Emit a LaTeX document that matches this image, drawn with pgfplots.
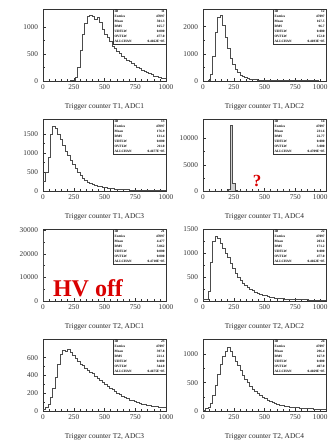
\documentclass[border=0pt]{standalone}
\usepackage{fontspec}
\setmainfont{Liberation Serif}
\usepackage{pgfplots}
\pgfplotsset{compat=1.18}
\newcommand\srow[2]{\makebox[50pt]{#1\hfill #2}}
\newcommand\statbox[7]{%
  \node[draw=black!80, line width=0.4pt, anchor=north east, inner sep=1.2pt, fill=white,
        align=left, font=\fontsize{3.4}{5}\selectfont\bfseries] at (rel axis cs:1,1)
  {\srow{ID}{#1}\\ \srow{Entries}{#2}\\ \srow{Mean}{#3}\\ \srow{RMS}{#4}\\ \srow{UDFLW}{#5}\\ \srow{OVFLW}{#6}\\ \srow{ALLCHAN}{#7}};}
\pgfplotsset{
 hist/.style={
  scale only axis, width=123pt, height=72pt, anchor=south west,
  xmin=0, xmax=1000, ymin=0,
  xtick={0,250,500,750,1000}, minor x tick num=4, minor y tick num=1,
  tick align=inside, tick pos=left,
  major tick length=3pt, minor tick length=1.6pt,
  scaled ticks=false,
  /pgf/number format/1000 sep={},
  /pgf/number format/assume math mode=true,
  ticklabel style={font=\fontsize{7.3}{8}\selectfont, text=black!80},
  yticklabel style={xshift=-1.5pt},
  xlabel style={font=\fontsize{7.4}{8}\selectfont, text=black!85, at={(axis description cs:0.5,0)}, anchor=center, yshift=-26pt},
  axis line style={line width=0.5pt, black!80},
  every tick/.style={black!80, line width=0.4pt},
 },
 right/.style={xticklabels={0,250,500,750,\makebox[3pt][r]{1000}}},
 h/.style={const plot mark left, black!70, line width=0.7pt, mark=none},
}
\begin{document}
\begin{tikzpicture}
\path[use as bounding box] (0pt,0pt) rectangle (329pt,442pt);
% Row 1 left: T1 ADC1
\begin{axis}[hist, at={(43pt,361pt)}, ymax=1333, ytick={0,500,1000}, xlabel={Trigger counter T1, ADC1}]
\addplot[h] coordinates {(0,0)(20,0)(40,0)(60,0)(80,0)(100,0)(120,0)(140,0)(160,0)(180,0)(200,0)(220,5)(240,15)(260,60)(280,260)(300,560)(320,860)(340,1060)(360,1200)(380,1210)(400,1190)(420,1150)(440,1170)(460,1080)(480,960)(500,870)(520,800)(540,740)(560,650)(580,600)(600,550)(620,505)(640,465)(660,425)(680,390)(700,355)(720,320)(740,290)(760,260)(780,230)(800,205)(820,180)(840,155)(860,135)(880,115)(900,95)(920,80)(940,68)(960,57)(980,48)(1000,48)};
\statbox{11}{47097}{501.3}{165.7}{0.000}{477.0}{0.4662E+05}
\end{axis}
% Row 1 right: T1 ADC2
\begin{axis}[hist, right, at={(203pt,361pt)}, ymax=2650, ytick={0,1000,2000}, xlabel={Trigger counter T1, ADC2}]
\addplot[h] coordinates {(0,0)(20,0)(40,20)(60,250)(80,900)(100,1800)(120,2350)(140,2400)(160,2050)(180,1600)(200,1200)(220,850)(240,600)(260,420)(280,300)(300,220)(320,165)(340,125)(360,95)(380,75)(400,60)(420,50)(440,42)(460,36)(480,32)(500,28)(520,25)(540,22)(560,20)(580,18)(600,16)(620,15)(640,14)(660,13)(680,12)(700,11)(720,10)(740,10)(760,9)(780,9)(800,8)(820,8)(840,7)(860,7)(880,6)(900,6)(920,6)(940,5)(960,5)(980,5)(1000,5)};
\statbox{12}{47097}{167.5}{96.7}{0.000}{152.0}{0.4693E+05}
\end{axis}
% Row 2 left: T1 ADC3
\begin{axis}[hist, at={(43pt,251pt)}, ymax=1900, ytick={0,500,1000,1500}, xlabel={Trigger counter T1, ADC3}]
\addplot[h] coordinates {(0,250)(20,500)(40,900)(60,1500)(80,1700)(100,1650)(120,1500)(140,1350)(160,1200)(180,1050)(200,930)(220,820)(240,700)(260,590)(280,490)(300,410)(320,340)(340,285)(360,240)(380,200)(400,170)(420,145)(440,125)(460,110)(480,95)(500,85)(520,75)(540,68)(560,60)(580,55)(600,50)(620,45)(640,40)(660,37)(680,33)(700,30)(720,28)(740,26)(760,24)(780,22)(800,20)(820,19)(840,18)(860,17)(880,16)(900,15)(920,14)(940,13)(960,12)(980,12)(1000,12)};
\statbox{13}{47097}{176.9}{131.4}{0.000}{211.0}{0.4677E+05}
\end{axis}
% Row 2 right: T1 ADC4
\begin{axis}[hist, right, at={(203pt,251pt)}, ymax=13700, ytick={0,5000,10000}, xlabel={Trigger counter T1, ADC4}]
\addplot[const plot mark left, fill=gray!35, draw=black!70, line width=0.7pt] coordinates {(0,0)(200,0)(205,300)(220,12500)(240,1500)(260,200)(280,0)(1000,0)} \closedcycle;
\statbox{14}{47097}{231.6}{22.77}{0.000}{3.000}{0.4709E+05}
\end{axis}
% Row 3 left: T2 ADC1
\begin{axis}[hist, at={(43pt,141pt)}, ymax=30500, ytick={0,10000,20000,30000}, xlabel={Trigger counter T2, ADC1}]
\addplot[h] coordinates {(0,29500)(6,0)(1000,0)};
\statbox{21}{47097}{4.477}{5.062}{0.000}{0.000}{0.4710E+05}
\end{axis}
% Row 3 right: T2 ADC2
\begin{axis}[hist, right, at={(203pt,141pt)}, ymax=1500, ytick={0,500,1000,1500}, xlabel={Trigger counter T2, ADC2}]
\addplot[h] coordinates {(0,40)(20,30)(40,200)(60,800)(80,1250)(100,1350)(120,1300)(140,1200)(160,1100)(180,1000)(200,900)(220,780)(240,670)(260,580)(280,500)(300,430)(320,370)(340,320)(360,280)(380,245)(400,215)(420,190)(440,165)(460,145)(480,125)(500,110)(520,95)(540,85)(560,75)(580,65)(600,58)(620,52)(640,48)(660,44)(680,40)(700,38)(720,35)(740,33)(760,31)(780,29)(800,27)(820,25)(840,24)(860,22)(880,21)(900,20)(920,19)(940,18)(960,17)(980,16)(1000,16)};
\statbox{22}{47097}{203.6}{171.2}{0.000}{477.0}{0.4662E+05}
\end{axis}
% Row 4 left: T2 ADC3
\begin{axis}[hist, at={(43pt,31pt)}, ymax=810, ytick={0,200,400,600}, xlabel={Trigger counter T2, ADC3}]
\addplot[h] coordinates {(0,20)(20,40)(40,80)(60,150)(80,250)(100,380)(120,520)(140,640)(160,680)(180,670)(200,690)(220,660)(240,630)(260,590)(280,560)(300,530)(320,510)(340,480)(360,460)(380,440)(400,420)(420,390)(440,370)(460,350)(480,320)(500,300)(520,280)(540,260)(560,240)(580,220)(600,200)(620,185)(640,170)(660,155)(680,140)(700,125)(720,115)(740,105)(760,95)(780,88)(800,80)(820,74)(840,68)(860,62)(880,57)(900,52)(920,48)(940,45)(960,42)(980,40)(1000,40)};
\statbox{23}{47097}{397.8}{221.1}{0.000}{344.0}{0.4675E+05}
\end{axis}
% Row 4 right: T2 ADC4
\begin{axis}[hist, right, at={(203pt,31pt)}, ymax=1270, ytick={0,500,1000}, xlabel={Trigger counter T2, ADC4}]
\addplot[h] coordinates {(0,20)(20,40)(40,60)(60,130)(80,280)(100,450)(120,640)(140,820)(160,960)(180,1060)(200,1130)(220,1050)(240,960)(260,880)(280,800)(300,710)(320,630)(340,560)(360,500)(380,440)(400,390)(420,345)(440,305)(460,270)(480,240)(500,215)(520,190)(540,170)(560,150)(580,135)(600,120)(620,108)(640,97)(660,88)(680,80)(700,73)(720,67)(740,62)(760,57)(780,52)(800,48)(820,45)(840,42)(860,40)(880,38)(900,36)(920,34)(940,32)(960,30)(980,29)(1000,29)};
\statbox{24}{47097}{296.4}{167.9}{0.000}{407.0}{0.4669E+05}
\end{axis}
% annotations
\node[text=red!85!black, font=\fontsize{24}{26}\selectfont\bfseries] at (88pt,154pt) {HV off};
\node[text=red!85!black, font=\fontsize{17}{18}\selectfont\bfseries] at (257pt,261pt) {?};
\end{tikzpicture}
\end{document}
